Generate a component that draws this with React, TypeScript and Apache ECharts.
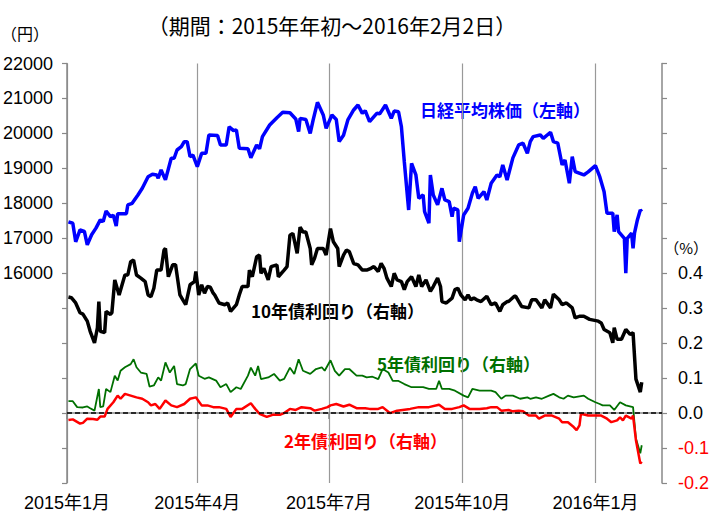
import React, { useEffect, useRef } from "react";
import * as echarts from "echarts";

const xTickDates = ["2015-01-01", "2015-04-01", "2015-07-01", "2015-10-01", "2016-01-01"];
const xTickLabels = ["2015年1月", "2015年4月", "2015年7月", "2015年10月", "2016年1月"];
const xMin = "2015-01-01";
const xMax = "2016-02-16";

const nikkei: [string, number][] = [
  ["2015-01-02", 17470], ["2015-01-05", 17430], ["2015-01-07", 16900], ["2015-01-10", 17240], ["2015-01-13", 17200],
  ["2015-01-15", 16810], ["2015-01-18", 17100], ["2015-01-21", 17290], ["2015-01-24", 17525], ["2015-01-26", 17480],
  ["2015-01-28", 17780], ["2015-01-31", 17620], ["2015-02-02", 17660], ["2015-02-04", 17350], ["2015-02-05", 17700],
  ["2015-02-11", 17700], ["2015-02-12", 17955], ["2015-02-15", 18000], ["2015-02-19", 18240], ["2015-02-22", 18430],
  ["2015-02-26", 18760], ["2015-03-01", 18830], ["2015-03-04", 18810], ["2015-03-05", 18717], ["2015-03-07", 18955],
  ["2015-03-10", 18670], ["2015-03-14", 19290], ["2015-03-16", 19290], ["2015-03-18", 19526], ["2015-03-21", 19620],
  ["2015-03-23", 19765], ["2015-03-25", 19765], ["2015-03-27", 19335], ["2015-03-29", 19380], ["2015-04-01", 19050],
  ["2015-04-04", 19430], ["2015-04-07", 19430], ["2015-04-09", 19955], ["2015-04-15", 19940], ["2015-04-17", 19670],
  ["2015-04-21", 19670], ["2015-04-23", 20190], ["2015-04-26", 20080], ["2015-04-28", 20100], ["2015-04-30", 19575],
  ["2015-05-06", 19560], ["2015-05-08", 19306], ["2015-05-12", 19670], ["2015-05-14", 19560], ["2015-05-16", 19908],
  ["2015-05-21", 20240], ["2015-05-26", 20450], ["2015-05-30", 20605], ["2015-06-04", 20590], ["2015-06-08", 20413],
  ["2015-06-10", 20050], ["2015-06-11", 20430], ["2015-06-15", 20400], ["2015-06-18", 20000], ["2015-06-20", 20380],
  ["2015-06-23", 20890], ["2015-06-27", 20527], ["2015-06-29", 20145], ["2015-07-03", 20527], ["2015-07-06", 20400],
  ["2015-07-08", 19765], ["2015-07-11", 19950], ["2015-07-14", 20384], ["2015-07-18", 20670], ["2015-07-21", 20813],
  ["2015-07-24", 20575], ["2015-07-26", 20650], ["2015-07-29", 20335], ["2015-08-03", 20575], ["2015-08-05", 20560],
  ["2015-08-09", 20813], ["2015-08-13", 20433], ["2015-08-15", 20640], ["2015-08-18", 20620], ["2015-08-20", 20190],
  ["2015-08-22", 19190], ["2015-08-25", 17810], ["2015-08-27", 19143], ["2015-08-30", 18812], ["2015-09-01", 18145],
  ["2015-09-04", 18240], ["2015-09-05", 17762], ["2015-09-08", 17430], ["2015-09-09", 18812], ["2015-09-11", 18240],
  ["2015-09-14", 17955], ["2015-09-17", 18430], ["2015-09-19", 18096], ["2015-09-22", 18050], ["2015-09-24", 17620],
  ["2015-09-25", 17860], ["2015-09-28", 17810], ["2015-09-29", 16904], ["2015-10-02", 17667], ["2015-10-05", 17860],
  ["2015-10-08", 18287], ["2015-10-10", 18478], ["2015-10-12", 18140], ["2015-10-16", 18335], ["2015-10-18", 18096],
  ["2015-10-21", 18573], ["2015-10-25", 18812], ["2015-10-27", 18760], ["2015-10-29", 19097], ["2015-11-01", 18669],
  ["2015-11-05", 19300], ["2015-11-09", 19670], ["2015-11-12", 19720], ["2015-11-15", 19430], ["2015-11-17", 19765],
  ["2015-11-19", 19908], ["2015-11-24", 19955], ["2015-11-26", 19860], ["2015-12-01", 20033], ["2015-12-03", 19765],
  ["2015-12-06", 19720], ["2015-12-09", 19097], ["2015-12-11", 19240], ["2015-12-14", 18573], ["2015-12-16", 19335],
  ["2015-12-18", 18910], ["2015-12-24", 18812], ["2015-12-27", 18900], ["2016-01-01", 19077], ["2016-01-04", 18763],
  ["2016-01-07", 18334], ["2016-01-09", 17717], ["2016-01-13", 17717], ["2016-01-14", 17190], ["2016-01-16", 17670],
  ["2016-01-17", 17190], ["2016-01-21", 17000], ["2016-01-22", 16000], ["2016-01-23", 17000], ["2016-01-26", 17145],
  ["2016-01-27", 16714], ["2016-01-28", 17145], ["2016-01-30", 17525], ["2016-02-01", 17810], ["2016-02-02", 17762],
];

const jgb10: [string, number][] = [
  ["2015-01-02", 0.332], ["2015-01-04", 0.33], ["2015-01-07", 0.315], ["2015-01-10", 0.287], ["2015-01-12", 0.283],
  ["2015-01-15", 0.263], ["2015-01-17", 0.234], ["2015-01-20", 0.201], ["2015-01-22", 0.244], ["2015-01-23", 0.319],
  ["2015-01-24", 0.234], ["2015-01-27", 0.23], ["2015-01-28", 0.291], ["2015-01-31", 0.282], ["2015-02-01", 0.287],
  ["2015-02-03", 0.381], ["2015-02-06", 0.338], ["2015-02-10", 0.395], ["2015-02-12", 0.395], ["2015-02-14", 0.433],
  ["2015-02-16", 0.438], ["2015-02-18", 0.395], ["2015-02-21", 0.386], ["2015-02-24", 0.376], ["2015-02-26", 0.338],
  ["2015-02-28", 0.333], ["2015-03-02", 0.357], ["2015-03-04", 0.409], ["2015-03-07", 0.409], ["2015-03-09", 0.466],
  ["2015-03-10", 0.471], ["2015-03-12", 0.39], ["2015-03-15", 0.424], ["2015-03-17", 0.424], ["2015-03-20", 0.338],
  ["2015-03-22", 0.324], ["2015-03-24", 0.31], ["2015-03-27", 0.367], ["2015-03-30", 0.376], ["2015-03-31", 0.405],
  ["2015-04-02", 0.338], ["2015-04-04", 0.367], ["2015-04-06", 0.343], ["2015-04-08", 0.362], ["2015-04-10", 0.36],
  ["2015-04-12", 0.343], ["2015-04-13", 0.338], ["2015-04-16", 0.315], ["2015-04-20", 0.31], ["2015-04-22", 0.315],
  ["2015-04-24", 0.291], ["2015-04-28", 0.31], ["2015-04-30", 0.338], ["2015-05-02", 0.362], ["2015-05-06", 0.362],
  ["2015-05-07", 0.409], ["2015-05-09", 0.39], ["2015-05-12", 0.447], ["2015-05-14", 0.452], ["2015-05-15", 0.4],
  ["2015-05-17", 0.414], ["2015-05-20", 0.381], ["2015-05-22", 0.419], ["2015-05-26", 0.424], ["2015-05-27", 0.39],
  ["2015-05-31", 0.409], ["2015-06-02", 0.419], ["2015-06-04", 0.509], ["2015-06-06", 0.514], ["2015-06-09", 0.457],
  ["2015-06-11", 0.532], ["2015-06-13", 0.518], ["2015-06-15", 0.518], ["2015-06-18", 0.471], ["2015-06-19", 0.424],
  ["2015-06-21", 0.443], ["2015-06-23", 0.471], ["2015-06-27", 0.471], ["2015-06-29", 0.452], ["2015-07-02", 0.528],
  ["2015-07-04", 0.49], ["2015-07-07", 0.471], ["2015-07-08", 0.419], ["2015-07-11", 0.452], ["2015-07-13", 0.466],
  ["2015-07-15", 0.462], ["2015-07-18", 0.428], ["2015-07-21", 0.424], ["2015-07-24", 0.409], ["2015-07-27", 0.409],
  ["2015-07-30", 0.414], ["2015-08-01", 0.419], ["2015-08-04", 0.405], ["2015-08-06", 0.428], ["2015-08-08", 0.414],
  ["2015-08-10", 0.386], ["2015-08-13", 0.362], ["2015-08-15", 0.4], ["2015-08-17", 0.381], ["2015-08-20", 0.376],
  ["2015-08-22", 0.353], ["2015-08-24", 0.376], ["2015-08-27", 0.39], ["2015-08-30", 0.362], ["2015-09-01", 0.395],
  ["2015-09-03", 0.362], ["2015-09-06", 0.381], ["2015-09-09", 0.348], ["2015-09-11", 0.362], ["2015-09-14", 0.386],
  ["2015-09-16", 0.362], ["2015-09-17", 0.319], ["2015-09-20", 0.315], ["2015-09-24", 0.329], ["2015-09-26", 0.353],
  ["2015-09-28", 0.357], ["2015-09-30", 0.338], ["2015-10-03", 0.324], ["2015-10-05", 0.338], ["2015-10-07", 0.324],
  ["2015-10-09", 0.329], ["2015-10-11", 0.324], ["2015-10-14", 0.319], ["2015-10-18", 0.334], ["2015-10-21", 0.31],
  ["2015-10-24", 0.315], ["2015-10-27", 0.291], ["2015-10-29", 0.31], ["2015-11-01", 0.319], ["2015-11-02", 0.319],
  ["2015-11-06", 0.334], ["2015-11-07", 0.334], ["2015-11-11", 0.305], ["2015-11-16", 0.301], ["2015-11-18", 0.324],
  ["2015-11-21", 0.324], ["2015-11-25", 0.301], ["2015-11-27", 0.324], ["2015-12-01", 0.301], ["2015-12-03", 0.34],
  ["2015-12-07", 0.324], ["2015-12-09", 0.31], ["2015-12-12", 0.315], ["2015-12-16", 0.301], ["2015-12-18", 0.272],
  ["2015-12-21", 0.277], ["2015-12-24", 0.277], ["2015-12-28", 0.268], ["2016-01-03", 0.263], ["2016-01-05", 0.258],
  ["2016-01-07", 0.239], ["2016-01-11", 0.23], ["2016-01-13", 0.201], ["2016-01-14", 0.244], ["2016-01-16", 0.211],
  ["2016-01-19", 0.211], ["2016-01-22", 0.239], ["2016-01-25", 0.225], ["2016-01-27", 0.23], ["2016-01-29", 0.097],
  ["2016-02-01", 0.06], ["2016-02-02", 0.088],
];

const jgb5: [string, number][] = [
  ["2015-01-02", 0.034], ["2015-01-05", 0.034], ["2015-01-08", 0.017], ["2015-01-12", 0.016], ["2015-01-15", 0.019],
  ["2015-01-17", 0.014], ["2015-01-20", 0.007], ["2015-01-23", 0.069], ["2015-01-24", 0.017], ["2015-01-26", 0.019],
  ["2015-01-28", 0.069], ["2015-01-31", 0.06], ["2015-02-03", 0.107], ["2015-02-05", 0.093], ["2015-02-07", 0.121],
  ["2015-02-10", 0.131], ["2015-02-14", 0.14], ["2015-02-16", 0.154], ["2015-02-18", 0.131], ["2015-02-21", 0.116],
  ["2015-02-25", 0.112], ["2015-02-27", 0.076], ["2015-03-02", 0.079], ["2015-03-05", 0.102], ["2015-03-07", 0.093],
  ["2015-03-10", 0.145], ["2015-03-13", 0.116], ["2015-03-16", 0.135], ["2015-03-18", 0.083], ["2015-03-22", 0.079],
  ["2015-03-24", 0.083], ["2015-03-27", 0.126], ["2015-03-31", 0.142], ["2015-04-02", 0.107], ["2015-04-06", 0.098],
  ["2015-04-09", 0.102], ["2015-04-14", 0.093], ["2015-04-17", 0.074], ["2015-04-21", 0.083], ["2015-04-24", 0.06],
  ["2015-04-28", 0.074], ["2015-05-01", 0.069], ["2015-05-06", 0.107], ["2015-05-08", 0.13], ["2015-05-11", 0.107],
  ["2015-05-13", 0.135], ["2015-05-15", 0.097], ["2015-05-20", 0.102], ["2015-05-24", 0.112], ["2015-05-28", 0.093],
  ["2015-05-31", 0.098], ["2015-06-04", 0.13], ["2015-06-07", 0.112], ["2015-06-10", 0.154], ["2015-06-13", 0.121],
  ["2015-06-18", 0.112], ["2015-06-22", 0.126], ["2015-06-26", 0.131], ["2015-06-28", 0.121], ["2015-07-02", 0.151],
  ["2015-07-05", 0.121], ["2015-07-08", 0.107], ["2015-07-12", 0.126], ["2015-07-15", 0.126], ["2015-07-20", 0.107],
  ["2015-07-24", 0.107], ["2015-07-27", 0.102], ["2015-07-31", 0.104], ["2015-08-04", 0.097], ["2015-08-07", 0.126],
  ["2015-08-11", 0.116], ["2015-08-14", 0.092], ["2015-08-18", 0.092], ["2015-08-22", 0.083], ["2015-08-27", 0.074],
  ["2015-08-31", 0.074], ["2015-09-04", 0.074], ["2015-09-08", 0.069], ["2015-09-13", 0.069], ["2015-09-15", 0.092],
  ["2015-09-17", 0.069], ["2015-09-22", 0.069], ["2015-09-26", 0.064], ["2015-10-02", 0.05], ["2015-10-05", 0.045],
  ["2015-10-08", 0.069], ["2015-10-13", 0.064], ["2015-10-18", 0.064], ["2015-10-21", 0.064], ["2015-10-24", 0.06],
  ["2015-10-28", 0.041], ["2015-10-31", 0.05], ["2015-11-05", 0.05], ["2015-11-10", 0.041], ["2015-11-15", 0.045],
  ["2015-11-17", 0.041], ["2015-11-21", 0.045], ["2015-11-25", 0.041], ["2015-11-30", 0.05], ["2015-12-03", 0.055],
  ["2015-12-07", 0.045], ["2015-12-10", 0.041], ["2015-12-13", 0.05], ["2015-12-17", 0.045], ["2015-12-24", 0.05],
  ["2015-12-27", 0.041], ["2016-01-01", 0.031], ["2016-01-04", 0.026], ["2016-01-06", 0.022], ["2016-01-11", 0.022],
  ["2016-01-14", 0.009], ["2016-01-18", 0.031], ["2016-01-22", 0.022], ["2016-01-27", 0.017], ["2016-01-29", -0.073],
  ["2016-02-01", -0.115], ["2016-02-02", -0.092],
];

const jgb2: [string, number][] = [
  ["2015-01-02", -0.02], ["2015-01-05", -0.018], ["2015-01-10", -0.03], ["2015-01-12", -0.028], ["2015-01-15", -0.016],
  ["2015-01-19", -0.017], ["2015-01-22", -0.019], ["2015-01-24", -0.01], ["2015-01-27", -0.01], ["2015-01-29", 0.012],
  ["2015-02-02", 0.031], ["2015-02-05", 0.05], ["2015-02-07", 0.041], ["2015-02-10", 0.055], ["2015-02-14", 0.05],
  ["2015-02-18", 0.045], ["2015-02-22", 0.041], ["2015-02-26", 0.031], ["2015-02-28", 0.022], ["2015-03-03", 0.026],
  ["2015-03-06", 0.012], ["2015-03-10", 0.036], ["2015-03-14", 0.022], ["2015-03-18", 0.017], ["2015-03-23", 0.026],
  ["2015-03-27", 0.041], ["2015-03-31", 0.045], ["2015-04-04", 0.022], ["2015-04-08", 0.022], ["2015-04-12", 0.017],
  ["2015-04-16", 0.017], ["2015-04-21", 0.012], ["2015-04-24", -0.011], ["2015-04-28", 0.012], ["2015-05-02", 0.012],
  ["2015-05-08", 0.028], ["2015-05-11", 0.012], ["2015-05-14", -0.002], ["2015-05-19", -0.011], ["2015-05-23", -0.005],
  ["2015-05-28", -0.005], ["2015-05-31", 0.0], ["2015-06-04", 0.012], ["2015-06-08", 0.009], ["2015-06-12", 0.017],
  ["2015-06-18", 0.014], ["2015-06-21", 0.007], ["2015-06-26", 0.012], ["2015-06-30", 0.017], ["2015-07-02", 0.022],
  ["2015-07-06", 0.026], ["2015-07-11", 0.019], ["2015-07-15", 0.024], ["2015-07-20", 0.014], ["2015-07-26", 0.014],
  ["2015-07-29", 0.012], ["2015-08-04", 0.012], ["2015-08-07", 0.017], ["2015-08-12", 0.0], ["2015-08-17", 0.007],
  ["2015-08-26", 0.012], ["2015-09-01", 0.017], ["2015-09-08", 0.017], ["2015-09-15", 0.024], ["2015-09-19", 0.012],
  ["2015-09-24", 0.012], ["2015-09-29", 0.017], ["2015-10-02", 0.022], ["2015-10-06", 0.012], ["2015-10-13", 0.012],
  ["2015-10-18", 0.014], ["2015-10-21", 0.017], ["2015-10-25", 0.017], ["2015-10-28", 0.007], ["2015-11-02", 0.009],
  ["2015-11-05", 0.005], ["2015-11-09", 0.007], ["2015-11-12", 0.005], ["2015-11-16", -0.007], ["2015-11-21", -0.007],
  ["2015-11-23", -0.016], ["2015-11-27", -0.007], ["2015-12-02", -0.007], ["2015-12-07", -0.016], ["2015-12-09", -0.026],
  ["2015-12-13", -0.026], ["2015-12-17", -0.04], ["2015-12-19", -0.049], ["2015-12-21", -0.035], ["2015-12-22", -0.002],
  ["2015-12-27", -0.007], ["2016-01-02", -0.007], ["2016-01-05", -0.007], ["2016-01-09", -0.016], ["2016-01-12", -0.026],
  ["2016-01-16", -0.021], ["2016-01-18", -0.012], ["2016-01-20", -0.021], ["2016-01-22", -0.007], ["2016-01-26", -0.016],
  ["2016-01-27", -0.007], ["2016-01-29", -0.078], ["2016-02-01", -0.144], ["2016-02-02", -0.139],
];

const FONT = '"Liberation Sans", Arial, "Noto Sans CJK JP", sans-serif';
const CJK = '"Noto Sans CJK JP", "Liberation Sans", sans-serif';

function toTs(s: string): number {
  const [y, m, d] = s.split("-").map(Number);
  return Date.UTC(y, m - 1, d);
}

function toSeries(rows: [string, number][]): [number, number][] {
  return rows.map(([d, v]) => [toTs(d), v]);
}

export default function App() {
  const ref = useRef<HTMLDivElement>(null);
  useEffect(() => {
    if (!ref.current) return;
    const chart = echarts.init(ref.current, undefined, { renderer: "svg" });
    const tickTs = xTickDates.map(toTs);
    const option: any = {
      animation: false,
      backgroundColor: "#ffffff",
      grid: { left: 67, right: 48, top: 63.5, bottom: 33, containLabel: false, outerBoundsMode: "none" },
      xAxis: {
        type: "value",
        min: toTs(xMin),
        max: toTs(xMax),
        axisLine: { show: true, lineStyle: { color: "#888888", width: 1.5 } },
        axisTick: { show: true, customValues: tickTs, length: 6, lineStyle: { color: "#888888", width: 1.5 } },
        axisLabel: {
          customValues: tickTs,
          fontSize: 18,
          fontFamily: FONT,
          color: "#000000",
          margin: 11,
          formatter: (v: number) => {
            const i = tickTs.findIndex((t) => Math.abs(t - v) < 3600000 * 12);
            return i >= 0 ? xTickLabels[i] : "";
          },
        },
        splitLine: { show: true, lineStyle: { color: "#999999", width: 1.2 } },
      },
      yAxis: [
        {
          type: "value",
          min: 10000,
          max: 22000,
          interval: 1000,
          position: "left",
          axisLine: { show: true, lineStyle: { color: "#888888", width: 1.5 } },
          axisTick: { show: true, length: 5, lineStyle: { color: "#888888", width: 1.2 } },
          splitLine: { show: false },
          axisLabel: {
            fontSize: 18,
            fontFamily: FONT,
            color: "#000000",
            margin: 14,
            formatter: (v: number) => (v >= 16000 ? String(v) : ""),
          },
        },
        {
          type: "value",
          min: -0.2,
          max: 1.0,
          interval: 0.1,
          position: "right",
          axisLine: { show: true, lineStyle: { color: "#888888", width: 1.5 } },
          axisTick: { show: true, length: 5, lineStyle: { color: "#888888", width: 1.2 } },
          splitLine: { show: false },
          axisLabel: {
            fontSize: 18,
            fontFamily: FONT,
            margin: 16,
            color: (v: any) => (Number(v) < -0.05 ? "#ff0000" : "#000000"),
            formatter: (v: number) => {
              if (v > 0.4001) return "";
              if (Math.abs(v) < 1e-9) return "0.0";
              return v.toFixed(1);
            },
          },
        },
      ],
      series: [
        {
          name: "日経平均株価（左軸）",
          type: "line",
          yAxisIndex: 0,
          data: toSeries(nikkei),
          showSymbol: false,
          lineStyle: { color: "#0000ff", width: 3.5 },
          itemStyle: { color: "#0000ff" },
          z: 3,
        },
        {
          name: "10年債利回り（右軸）",
          type: "line",
          yAxisIndex: 1,
          data: toSeries(jgb10),
          showSymbol: false,
          lineStyle: { color: "#000000", width: 3.5 },
          itemStyle: { color: "#000000" },
          z: 3,
        },
        {
          name: "5年債利回り（右軸）",
          type: "line",
          yAxisIndex: 1,
          data: toSeries(jgb5),
          showSymbol: false,
          lineStyle: { color: "#007000", width: 1.8 },
          itemStyle: { color: "#007000" },
          z: 3,
        },
        {
          name: "2年債利回り（右軸）",
          type: "line",
          yAxisIndex: 1,
          data: toSeries(jgb2),
          showSymbol: false,
          lineStyle: { color: "#ff0000", width: 2.5 },
          itemStyle: { color: "#ff0000" },
          z: 4,
          markLine: {
            silent: true,
            symbol: "none",
            label: { show: false },
            lineStyle: { color: "#000000", type: [5, 3], width: 1.5 },
            data: [{ yAxis: 0 }],
          },
        },
      ],
      graphic: [
        {
          type: "text",
          x: 332,
          y: 25,
          style: { text: "（期間：2015年年初～2016年2月2日）", font: `21px ${CJK}`, fill: "#000000", align: "center", verticalAlign: "middle" },
        },
        {
          type: "text",
          x: 25,
          y: 33,
          style: { text: "（円）", font: `16px ${CJK}`, fill: "#000000", align: "center", verticalAlign: "middle" },
        },
        {
          type: "text",
          x: 708,
          y: 247,
          style: { text: "（%）", font: `15px ${CJK}`, fill: "#000000", align: "right", verticalAlign: "middle" },
        },
        {
          type: "text",
          x: 420,
          y: 109,
          style: { text: "日経平均株価（左軸）", font: `bold 17px ${CJK}`, fill: "#0000ff", verticalAlign: "middle" },
        },
        {
          type: "text",
          x: 251,
          y: 310,
          style: { text: "10年債利回り（右軸）", font: `bold 17px ${CJK}`, fill: "#000000", verticalAlign: "middle" },
        },
        {
          type: "text",
          x: 377,
          y: 363,
          style: { text: "5年債利回り（右軸）", font: `bold 17px ${CJK}`, fill: "#007000", verticalAlign: "middle" },
        },
        {
          type: "text",
          x: 284,
          y: 440,
          style: { text: "2年債利回り（右軸）", font: `bold 17px ${CJK}`, fill: "#ff0000", verticalAlign: "middle" },
        },
      ],
    };
    chart.setOption(option);
    return () => chart.dispose();
  }, []);
  return (
    <div
      ref={ref}
      style={{ position: "absolute", left: 0, top: 0, width: 710, height: 516, background: "#fff" }}
    />
  );
}
